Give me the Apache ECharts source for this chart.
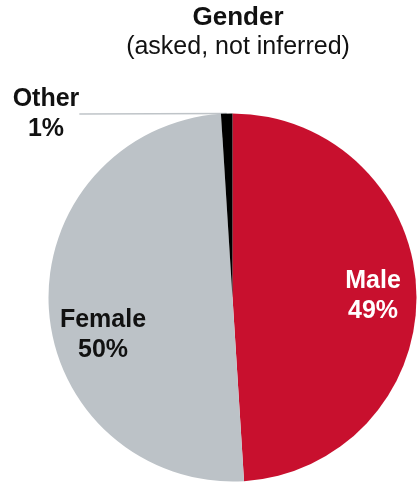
<!DOCTYPE html>
<html>
<head>
<meta charset="utf-8">
<style>
  html, body { margin: 0; padding: 0; background: #ffffff; }
  #chart { width: 417px; height: 485px; }
</style>
<script src="https://cdn.jsdelivr.net/npm/echarts@6/dist/echarts.min.js"></script>
</head>
<body>
<div id="chart"></div>
<script>
// Gender split of respondents (self-reported)
const categories = ['Male', 'Female', 'Other'];
const shares = [49, 50, 1];
const titleText = 'Gender';
const subtitleText = '(asked, not inferred)';

const sliceColors = { Male: '#C8102E', Female: '#BCC2C7', Other: '#000000' };
const labelColors = { Male: '#ffffff', Female: '#111111', Other: '#111111' };
// where each label block is centred, in pixels
const labelSpots = { Male: [373, 296], Female: [103, 335], Other: [46, 114] };

const FONT = '"Liberation Sans", Arial, sans-serif';

const chart = echarts.init(document.getElementById('chart'), null, { renderer: 'canvas' });

const pieData = categories.map((name, i) => ({
  name: name,
  value: shares[i],
  itemStyle: { color: sliceColors[name] },
  label: {
    position: name === 'Other' ? 'outside' : 'inside',
    color: labelColors[name]
  },
  labelLine: {
    show: name === 'Other',
    length: 8,
    length2: 0,
    lineStyle: { color: '#BFC4C8', width: 1.5 }
  }
}));

chart.setOption({
  animation: false,
  backgroundColor: '#ffffff',
  graphic: [
    {
      type: 'text', x: 238, y: 18,
      style: {
        text: titleText, font: 'bold 26px ' + FONT, fill: '#111111',
        textAlign: 'center', textVerticalAlign: 'middle'
      }
    },
    {
      type: 'text', x: 238, y: 47,
      style: {
        text: subtitleText, font: '25px ' + FONT, fill: '#111111',
        textAlign: 'center', textVerticalAlign: 'middle'
      }
    }
  ],
  series: [{
    type: 'pie',
    center: [232.5, 297.5],
    radius: 184,
    startAngle: 90,
    clockwise: true,
    avoidLabelOverlap: false,
    itemStyle: { borderWidth: 0 },
    emphasis: { disabled: true },
    label: {
      show: true,
      rotate: 0,
      formatter: '{b}\n{c}%',
      fontFamily: FONT,
      fontWeight: 'bold',
      fontSize: 25,
      lineHeight: 30,
      align: 'center'
    },
    labelLayout: function (params) {
      const spot = labelSpots[categories[params.dataIndex]];
      return { x: spot[0], y: spot[1], align: 'center', verticalAlign: 'middle' };
    },
    data: pieData
  }]
});
</script>
</body>
</html>
